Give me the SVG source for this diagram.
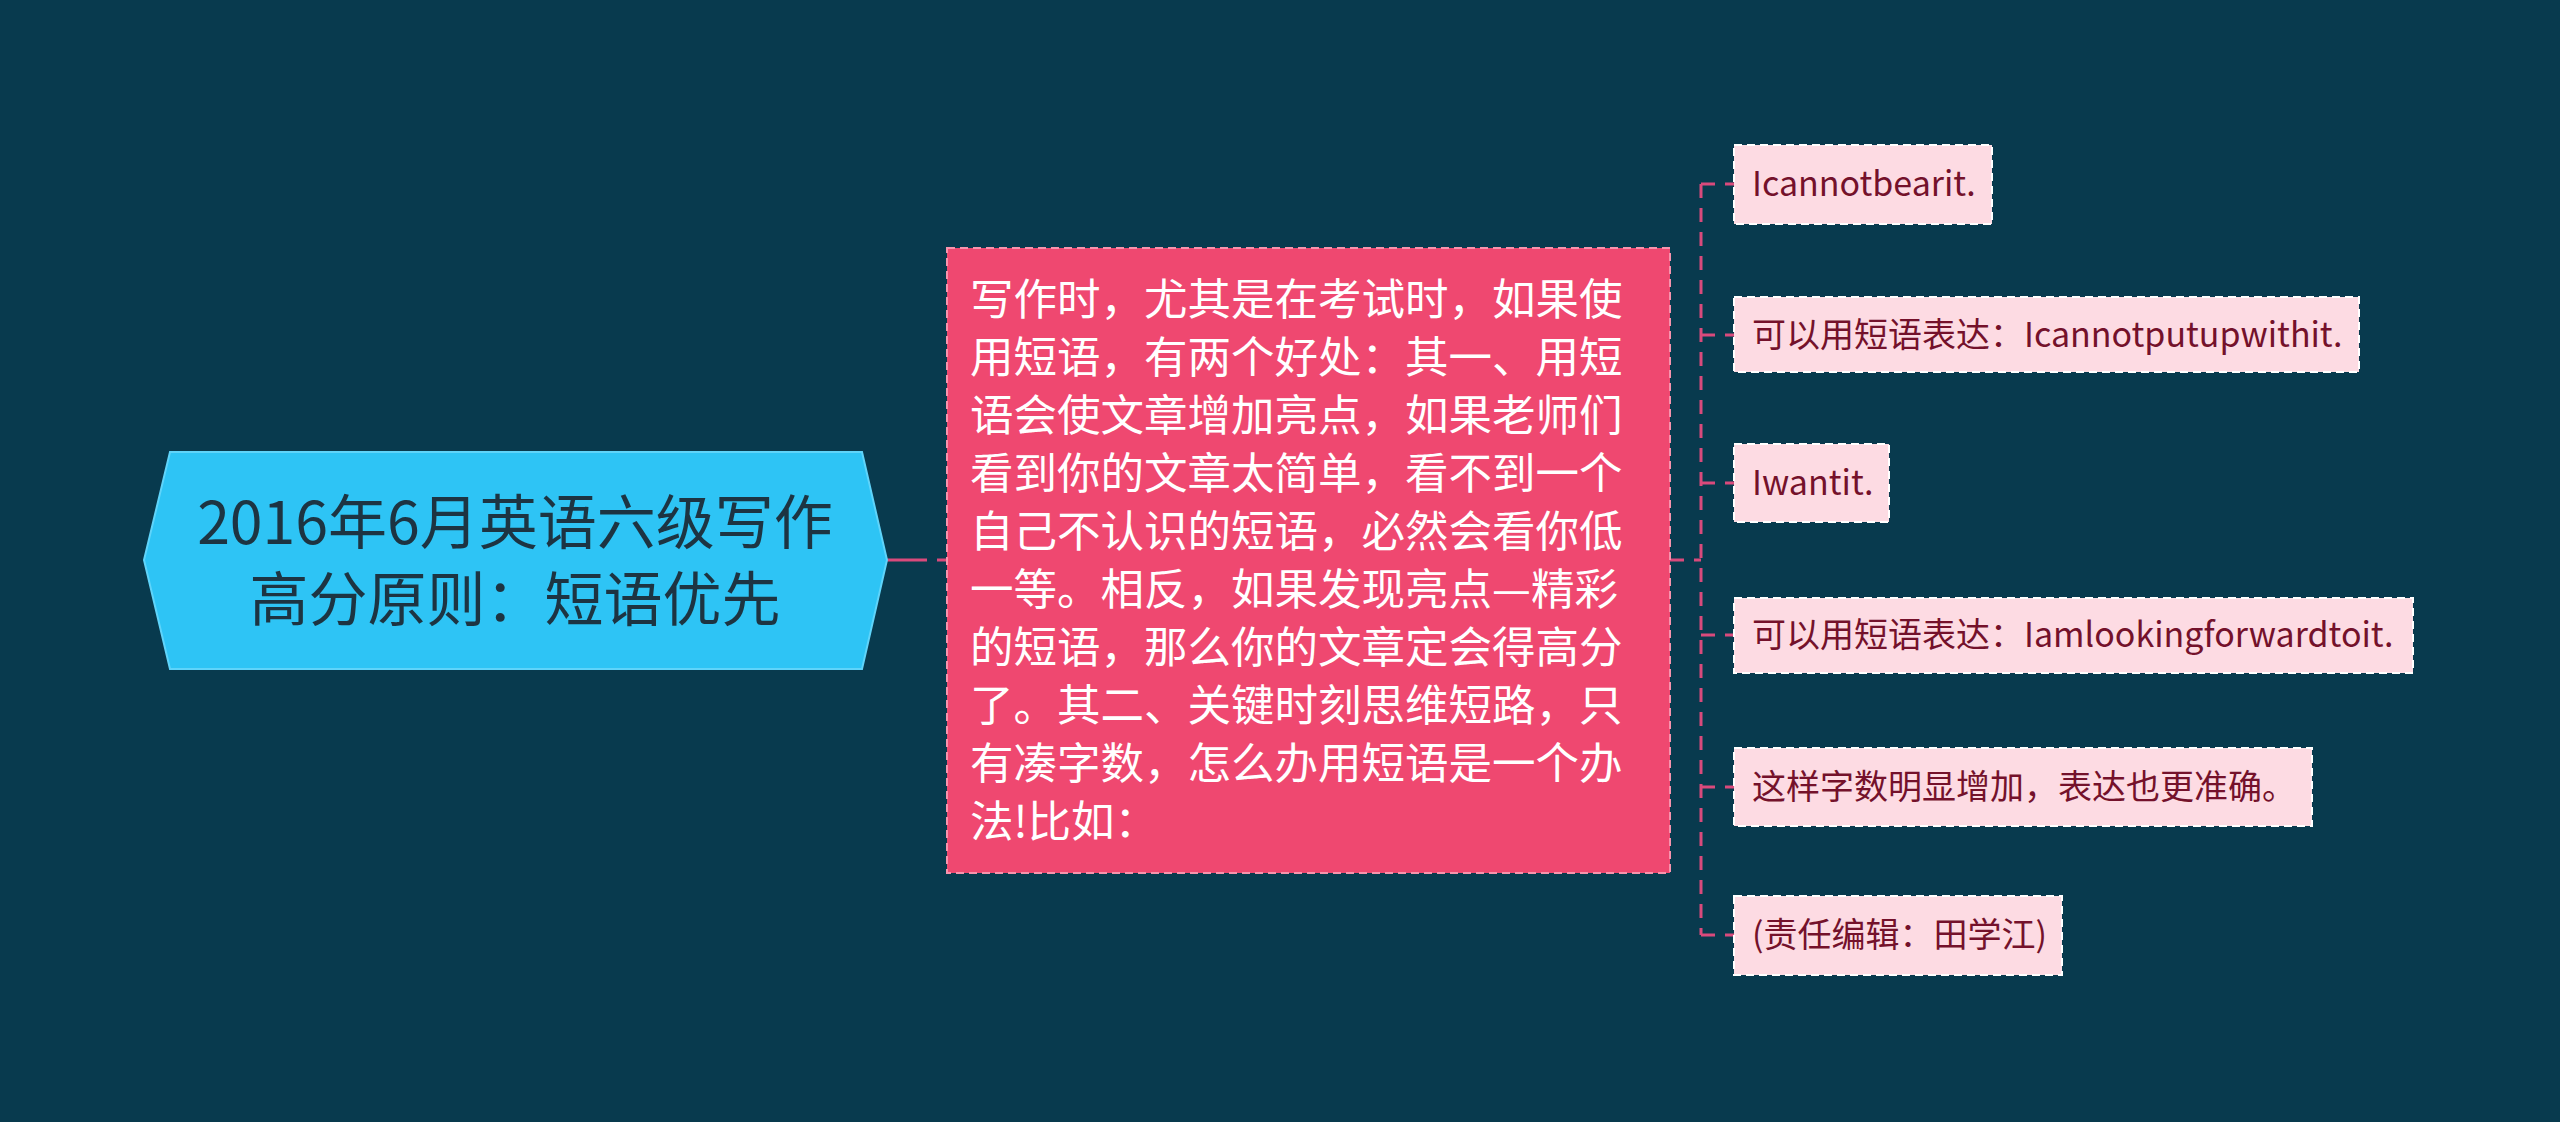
<svg xmlns="http://www.w3.org/2000/svg" width="2560" height="1122" viewBox="0 0 2560 1122">
<style>
.bg{fill:#083a4e}
.root{fill:#2ec4f5;stroke:#5fd4fa;stroke-width:2}
.roottxt{font-family:"Noto Sans CJK SC","Noto Sans",sans-serif;font-size:59px;fill:#1d3442;text-anchor:middle}
.mid{fill:#ef4870;stroke:#f793ad;stroke-width:2;stroke-dasharray:8 5}
.midtxt{font-family:"Noto Sans CJK SC","Noto Sans",sans-serif;font-size:43.5px;fill:#ffffff}
.leaf{fill:#fddbe3;stroke:#ffffff;stroke-width:2;stroke-dasharray:8 5}
.leaftxt{font-family:"Noto Sans CJK SC","Noto Sans",sans-serif;font-size:34px;fill:#74112b}
.conn{fill:none;stroke:#d94a7c;stroke-width:3}
.dash{stroke-dasharray:14 10}
</style>
<rect class="bg" x="0" y="0" width="2560" height="1122"/>
<g id="connectors">
<path class="conn" d="M887 560 H947" stroke-dasharray="40 10"/>
<path class="conn dash" d="M1670 560 H1701"/>
<path class="conn dash" d="M1701 184 V935"/>
<path class="conn dash" d="M1701 184 H1734"/>
<path class="conn dash" d="M1701 335 H1734"/>
<path class="conn dash" d="M1701 483 H1734"/>
<path class="conn dash" d="M1701 635 H1734"/>
<path class="conn dash" d="M1701 787 H1734"/>
<path class="conn dash" d="M1701 935 H1734"/>
</g>
<g id="root">
<polygon class="root" points="144,560 170,452 862,452 887,560 862,669 170,669"/>
<text class="roottxt" x="515" y="544">2016年6月英语六级写作</text>
<text class="roottxt" x="515" y="621">高分原则：短语优先</text>
</g>
<g id="middle">
<rect class="mid" x="947" y="248" width="723" height="625"/>
<text class="midtxt" x="970" y="315">写作时，尤其是在考试时，如果使</text>
<text class="midtxt" x="970" y="373">用短语，有两个好处：其一、用短</text>
<text class="midtxt" x="970" y="431">语会使文章增加亮点，如果老师们</text>
<text class="midtxt" x="970" y="489">看到你的文章太简单，看不到一个</text>
<text class="midtxt" x="970" y="547">自己不认识的短语，必然会看你低</text>
<text class="midtxt" x="970" y="605">一等。相反，如果发现亮点—精彩</text>
<text class="midtxt" x="970" y="663">的短语，那么你的文章定会得高分</text>
<text class="midtxt" x="970" y="721">了。其二、关键时刻思维短路，只</text>
<text class="midtxt" x="970" y="779">有凑字数，怎么办用短语是一个办</text>
<text class="midtxt" x="970" y="837">法!比如：</text>
</g>
<g id="leaf1">
<rect class="leaf" x="1734" y="145" width="258" height="79"/>
<text class="leaftxt" x="1752" y="196">Icannotbearit.</text>
</g>
<g id="leaf2">
<rect class="leaf" x="1734" y="297" width="625" height="75"/>
<text class="leaftxt" x="1752" y="347">可以用短语表达：Icannotputupwithit.</text>
</g>
<g id="leaf3">
<rect class="leaf" x="1734" y="444" width="155" height="78"/>
<text class="leaftxt" x="1752" y="495">Iwantit.</text>
</g>
<g id="leaf4">
<rect class="leaf" x="1734" y="598" width="679" height="75"/>
<text class="leaftxt" x="1752" y="647">可以用短语表达：Iamlookingforwardtoit.</text>
</g>
<g id="leaf5">
<rect class="leaf" x="1734" y="748" width="578" height="78"/>
<text class="leaftxt" x="1752" y="799">这样字数明显增加，表达也更准确。</text>
</g>
<g id="leaf6">
<rect class="leaf" x="1734" y="896" width="328" height="79"/>
<text class="leaftxt" x="1752" y="947">(责任编辑：田学江)</text>
</g>
</svg>
